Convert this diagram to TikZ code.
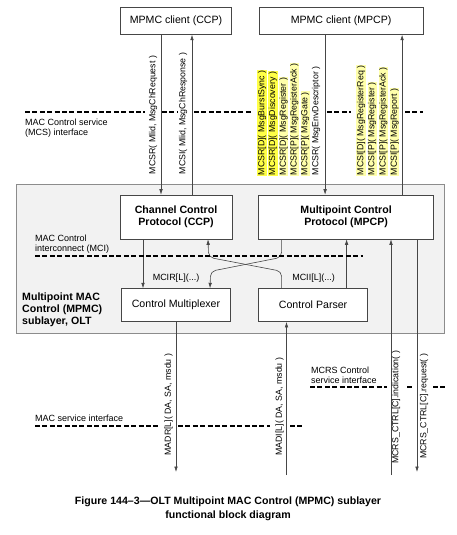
\documentclass[tikz,border=0pt]{standalone}
\usepackage{fontspec}
\setmainfont{Liberation Sans}
\usetikzlibrary{positioning,arrows.meta}

\definecolor{hlbright}{RGB}{255,255,70}
\definecolor{hlpale}{RGB}{255,255,170}
\definecolor{subfill}{RGB}{242,242,242}
\definecolor{linegray}{RGB}{70,70,70}

\begin{document}
\begin{tikzpicture}[x=1pt, y=-1pt, >={Latex[length=5.5pt,width=3.6pt]},
    blk/.style={rectangle, draw=linegray, line width=0.6pt, fill=white, align=center, inner sep=0pt, font=\fontsize{10.6}{12.5}\selectfont},
    bblk/.style={blk, font=\fontsize{10.6}{12.5}\selectfont\bfseries},
    arr/.style={draw=linegray, line width=0.6pt, ->},
    iface/.style={line width=2.6pt, dash pattern=on 5pt off 2.4pt},
    vlab/.style={rotate=90, inner sep=0.6pt, font=\fontsize{8.8}{10}\selectfont},
    note/.style={align=left, inner sep=0pt, font=\fontsize{9}{10}\selectfont}]
    \useasboundingbox (0,0) rectangle (456,535);

    % sublayer frame
    \node [blk, fill=subfill, draw=black!45, minimum width=428pt, minimum height=149pt] (sub) at (230,258.5) {};
    \node [note, anchor=north west, font=\fontsize{10.6}{12}\selectfont\bfseries] (sublbl) at (22,293) {Multipoint MAC\\Control (MPMC)\\sublayer, OLT};

    % blocks
    \node [bblk, minimum width=112pt, minimum height=44pt] (ccp) at (176,217) {Channel Control\\Protocol (CCP)};
    \node [bblk, minimum width=175pt, minimum height=44pt, right=26pt of ccp] (mpcp) {Multipoint Control\\Protocol (MPCP)};
    \node [blk, minimum width=111pt, minimum height=27pt, above=160pt of ccp] (ccpc) {MPMC client (CCP)};
    \node [blk, minimum width=164pt, minimum height=27pt, right=27pt of ccpc] (mpcpc) {MPMC client (MPCP)};
    \node [blk, minimum width=109pt, minimum height=33pt, below=49pt of ccp] (mux) {Control Multiplexer};
    \node [blk, minimum width=109pt, minimum height=33pt, right=27.5pt of mux] (parser) {Control Parser};

    % free ends below the frame
    \coordinate (madrEnd) at (176,472);
    \coordinate (madiEnd) at (286.5,475);
    \coordinate (indEnd) at (391,475);
    \coordinate (reqEnd) at (417,472);

    % MCS primitives
    \draw [arr] ([xshift=-15pt]ccpc.south) -- ([xshift=-15pt]ccpc.south |- ccp.north);
    \draw [arr] ([xshift=16pt]ccp.north) -- ([xshift=16pt]ccp.north |- ccpc.south);
    \draw [arr] ([xshift=-16pt]mpcpc.south) -- ([xshift=-16pt]mpcpc.south |- mpcp.north);
    \draw [arr] ([xshift=56pt]mpcp.north) -- ([xshift=56pt]mpcp.north |- mpcpc.south);

    % MCI primitives
    \draw [arr] ([xshift=-33pt]ccp.south) -- ([xshift=-33pt]ccp.south |- mux.north);
    \draw [arr, rounded corners=5pt] ([xshift=-64.5pt]mpcp.south) -- ++(0,18) -- ++(-71,14) -- ([xshift=34pt]mux.north);
    \draw [arr, rounded corners=5pt] ([xshift=-31.5pt]parser.north) -- ++(0,-17) -- ++(-73,-14) -- ([xshift=32pt]ccp.south);
    \draw [arr] ([xshift=33.5pt]parser.north) -- ([xshift=33.5pt]parser.north |- mpcp.south);

    % MAC and MCRS primitives
    \draw [arr] (mux.south) -- (madrEnd);
    \draw [arr] (madiEnd) -- (madiEnd |- parser.south);
    \draw [arr] (indEnd) -- (indEnd |- mpcp.south);
    \draw [arr] (reqEnd |- mpcp.south) -- (reqEnd);

    % interfaces
    \draw [iface] (25,112) -- (145,112) (162,112) -- (177,112) (194,112) -- (252,112) (327,112) -- (351,112) (405,112) -- (423,112);
    \draw [iface] (35,256) -- (363,256);
    \draw [iface] (35,426) -- (160,426) (178,426) -- (270,426) (290,426) -- (302,426);
    \draw [iface] (310,387) -- (387,387) (407,387) -- (412,387) (433,387) -- (445,387);
    \node [note, anchor=north west] (mcslbl) at (25,119) {MAC Control service\\(MCS) interface};
    \node [note, anchor=north west] (mcilbl) at (35,235) {MAC Control\\interconnect (MCI)};
    \node [note, anchor=north west] (maclbl) at (35,415) {MAC service interface};
    \node [note, anchor=north west] (mcrslbl) at (311,367) {MCRS Control\\service interface};

    % primitive labels
    \node [vlab, anchor=west] (chreq) at (153,175) {MCSR( Mlid, MsgChRequest )};
    \node [vlab, anchor=west] (chrsp) at (183,175) {MCSI( Mlid, MsgChResponse )};
    \foreach \xx/\txt/\hl [count=\i] in {262/{MCSR[D]( MsgBurstSync )}/hlbright, 272.8/{MCSR[D]( MsgDiscovery )}/hlbright, 283.6/{MCSR[D]( MsgRegister )}/hlpale, 294.4/{MCSR[P]( MsgRegisterAck )}/hlpale, 305.2/{MCSR[P]( MsgGate )}/hlpale, 316/{MCSR( MsgEnvDescriptor )}/none}
        \node [vlab, anchor=west, fill=\hl] (mcsr\i) at (\xx,176) {\txt};
    \foreach \xx/\txt [count=\i] in {361/{MCSI[D]( MsgRegisterReq )}, 372.2/{MCSI[P]( MsgRegister )}, 383.4/{MCSI[P]( MsgRegisterAck )}, 394.6/{MCSI[P]( MsgReport )}}
        \node [vlab, anchor=west, fill=hlpale] (mcsi\i) at (\xx,176) {\txt};
    \node [note] (mcir) at (176,278) {MCIR[L](...)};
    \node [note] (mcii) at (313.5,278) {MCII[L](...)};
    \node [vlab, anchor=east] (madr) at (168.5,353) {MADR[L]( DA, SA, msdu )};
    \node [vlab, anchor=east] (madi) at (279.5,357) {MADI[L]( DA, SA, msdu )};
    \node [vlab, anchor=east] (ctrlind) at (396,350) {MCRS\_CTRL[C].indication( )};
    \node [vlab, anchor=east] (ctrlreq) at (424,353) {MCRS\_CTRL[C].request( )};

    % caption
    \node [align=center, font=\fontsize{10.6}{13.5}\selectfont\bfseries] (caption) at (228,509) {Figure 144–3—OLT Multipoint MAC Control (MPMC) sublayer\\functional block diagram};
\end{tikzpicture}
\end{document}
